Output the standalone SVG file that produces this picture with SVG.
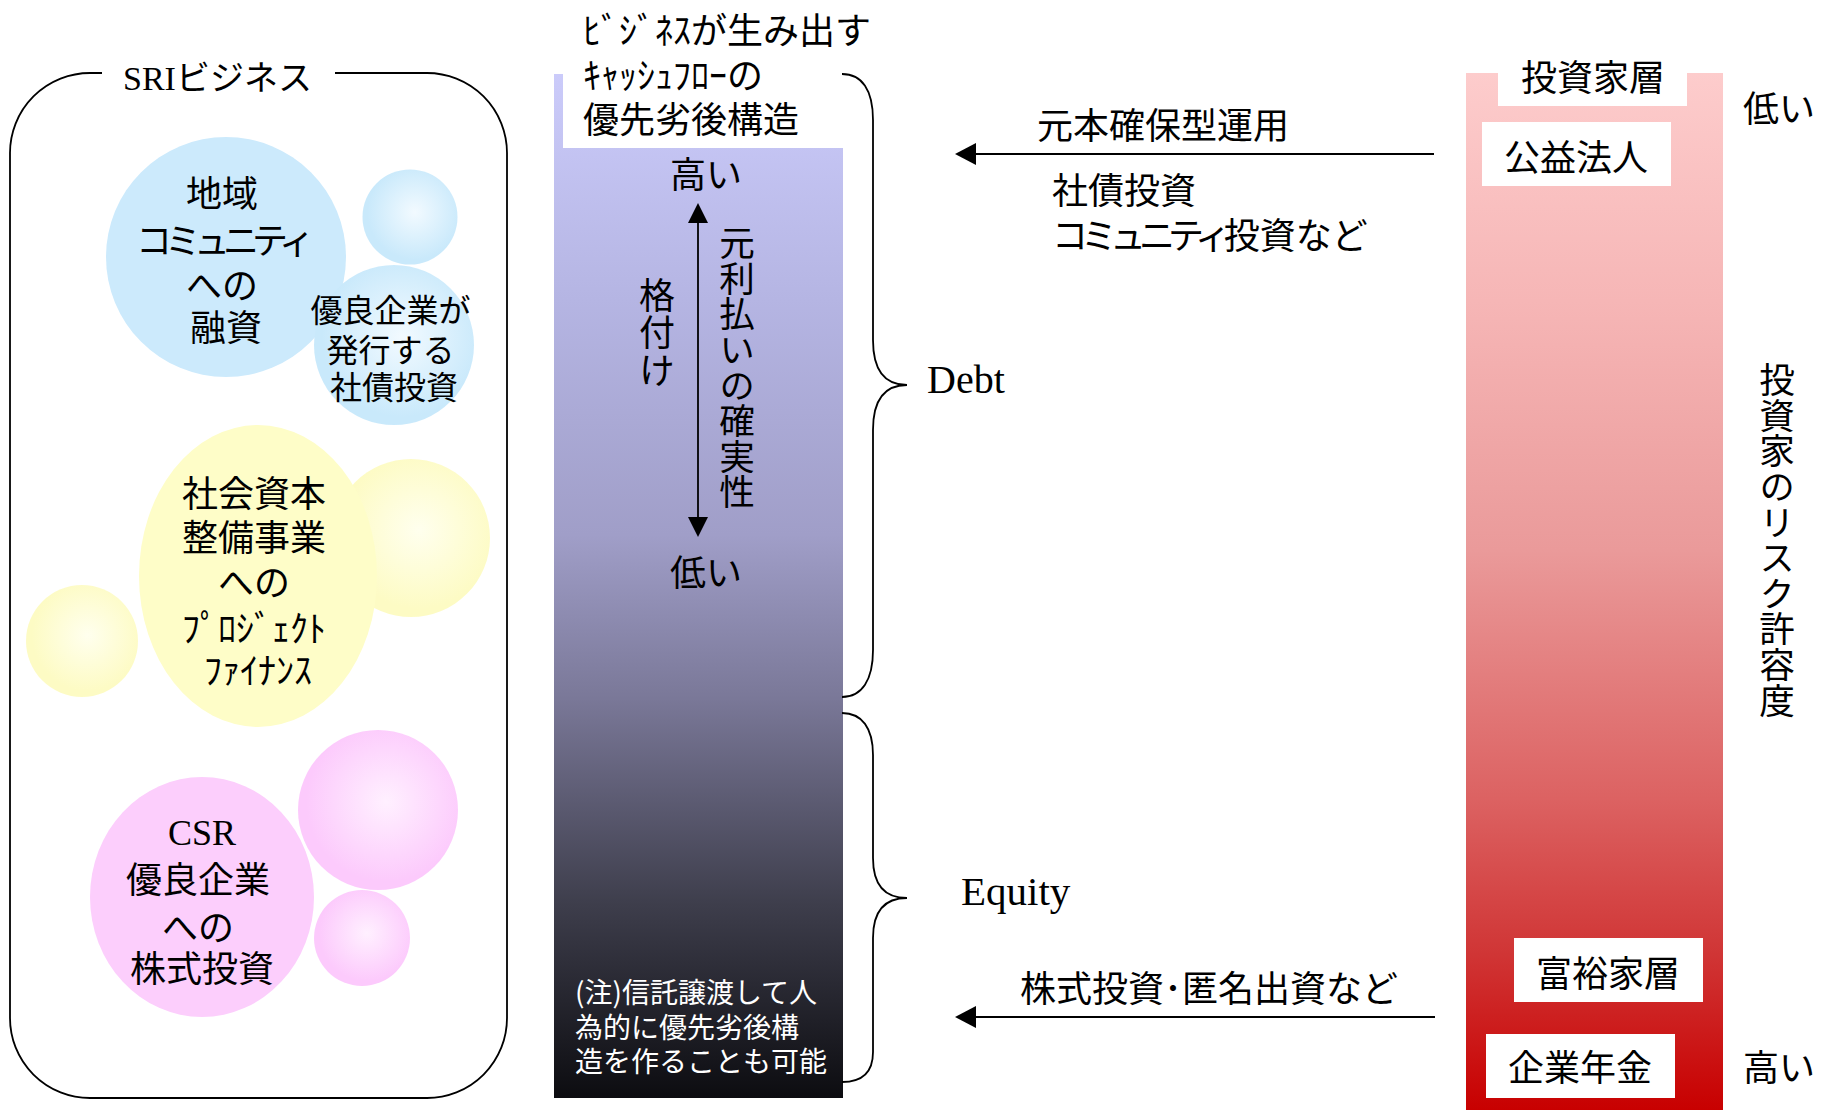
<svg xmlns="http://www.w3.org/2000/svg" width="1824" height="1111" viewBox="0 0 1824 1111">
<style>
  .jp { font-family: "Noto Sans CJK JP", "Noto Sans", sans-serif; fill: #000; }
  .ser { font-family: "Liberation Serif", "Noto Sans CJK JP", serif; fill: #000; }
  .vert { writing-mode: vertical-rl; text-orientation: upright; }
  .line { fill: none; stroke: #000; stroke-width: 1.8; }
  .box { fill: #fff; }
</style>
<defs>
  <radialGradient id="gBlue" cx="0.55" cy="0.45" r="0.5">
    <stop offset="0" stop-color="#f2faff"/>
    <stop offset="1" stop-color="#c9e9fb"/>
  </radialGradient>
  <radialGradient id="gYellow" cx="0.55" cy="0.45" r="0.5">
    <stop offset="0" stop-color="#ffffee"/>
    <stop offset="1" stop-color="#fdfbc4"/>
  </radialGradient>
  <radialGradient id="gPink" cx="0.55" cy="0.45" r="0.5">
    <stop offset="0" stop-color="#fff0ff"/>
    <stop offset="1" stop-color="#fccafc"/>
  </radialGradient>
  <linearGradient id="gMid" x1="0" y1="0" x2="0" y2="1">
    <stop offset="0" stop-color="#cbcbfa"/>
    <stop offset="0.22" stop-color="#b5b5e3"/>
    <stop offset="0.45" stop-color="#a09ec8"/>
    <stop offset="0.61" stop-color="#7a7898"/>
    <stop offset="0.81" stop-color="#3e3e4c"/>
    <stop offset="1" stop-color="#0c0c10"/>
  </linearGradient>
  <linearGradient id="gRed" x1="0" y1="0" x2="0" y2="1">
    <stop offset="0" stop-color="#fdcccc"/>
    <stop offset="0.22" stop-color="#f6b6b6"/>
    <stop offset="0.46" stop-color="#ea9a9a"/>
    <stop offset="0.7" stop-color="#dc6262"/>
    <stop offset="0.85" stop-color="#d03535"/>
    <stop offset="1" stop-color="#c80000"/>
  </linearGradient>
</defs>

<rect width="1824" height="1111" fill="#fff"/>

<!-- SRI business frame -->
<g id="sri-frame">
  <path class="line" d="M102,73 H90 A80,80 0 0 0 10,153 V1018 A80,80 0 0 0 90,1098 H427 A80,80 0 0 0 507,1018 V153 A80,80 0 0 0 427,73 H335"/>
  <text class="ser" x="123" y="90" font-size="34">SRIビジネス</text>
</g>

<g id="blue-group">
  <circle cx="226" cy="257" r="120" fill="#cceafc"/>
  <circle cx="410" cy="217" r="47.5" fill="url(#gBlue)"/>
  <circle cx="394" cy="345" r="80" fill="url(#gBlue)"/>
  <text class="jp" font-size="36" text-anchor="middle">
    <tspan x="226" y="207">地域</tspan>
    <tspan x="226" y="254" letter-spacing="-7">コミュニティ</tspan>
    <tspan x="226" y="299">への</tspan>
    <tspan x="226" y="341">融資</tspan>
  </text>
  <text class="jp" font-size="32" text-anchor="middle">
    <tspan x="394" y="322">優良企業が</tspan>
    <tspan x="394" y="362">発行する</tspan>
    <tspan x="394" y="399">社債投資</tspan>
  </text>
</g>

<g id="yellow-group">
  <circle cx="411" cy="538" r="79" fill="url(#gYellow)"/>
  <circle cx="82" cy="641" r="56" fill="url(#gYellow)"/>
  <ellipse cx="258" cy="576" rx="119" ry="151" fill="#fefdc8"/>
  <text class="jp" font-size="36" text-anchor="middle">
    <tspan x="258" y="507">社会資本</tspan>
    <tspan x="258" y="551">整備事業</tspan>
    <tspan x="258" y="596">への</tspan>
    <tspan x="258" y="642">ﾌﾟﾛｼﾞｪｸﾄ</tspan>
    <tspan x="258" y="684">ﾌｧｲﾅﾝｽ</tspan>
  </text>
</g>

<g id="pink-group">
  <circle cx="378" cy="810" r="80" fill="url(#gPink)"/>
  <circle cx="362" cy="938" r="48" fill="url(#gPink)"/>
  <ellipse cx="202" cy="897" rx="112" ry="120" fill="#fccefc"/>
  <text class="ser" x="202" y="845" font-size="36" text-anchor="middle">CSR</text>
  <text class="jp" font-size="36" text-anchor="middle">
    <tspan x="202" y="893">優良企業</tspan>
    <tspan x="202" y="941">への</tspan>
    <tspan x="202" y="982">株式投資</tspan>
  </text>
</g>

<!-- Middle column: cash flow priority structure -->
<g id="cashflow-column">
  <rect x="554" y="74" width="289" height="1024" fill="url(#gMid)"/>
  <rect class="box" x="563" y="60" width="282" height="88"/>
  <text class="jp" font-size="36">
    <tspan x="583" y="44">ﾋﾞｼﾞﾈｽが生み出す</tspan>
    <tspan x="583" y="89">ｷｬｯｼｭﾌﾛｰの</tspan>
    <tspan x="583" y="133">優先劣後構造</tspan>
  </text>
  <text class="jp" x="706" y="188" font-size="36" text-anchor="middle">高い</text>
  <text class="jp" x="706" y="586" font-size="36" text-anchor="middle">低い</text>
  <text class="jp vert" x="737" y="225" font-size="35.6">元利払いの確実性</text>
  <text class="jp vert" x="657" y="277" font-size="36" letter-spacing="1.5">格付け</text>
  <text class="jp" font-size="28" style="fill:#fff">
    <tspan x="575" y="1003">(注)信託譲渡して人</tspan>
    <tspan x="575" y="1038">為的に優先劣後構</tspan>
    <tspan x="575" y="1072">造を作ることも可能</tspan>
  </text>
</g>

<!-- Right column: investors -->
<g id="investor-column">
  <rect x="1466" y="73" width="257" height="1037" fill="url(#gRed)"/>
  <rect class="box" x="1498" y="60" width="189" height="46"/>
  <text class="jp" x="1593" y="91" font-size="36" text-anchor="middle">投資家層</text>
</g>
<g id="node-koueki">
  <rect class="box" x="1482" y="122" width="189" height="64"/>
  <text class="jp" x="1576" y="171" font-size="36" text-anchor="middle">公益法人</text>
</g>
<g id="node-fuyuu">
  <rect class="box" x="1514" y="938" width="189" height="64"/>
  <text class="jp" x="1608" y="987" font-size="36" text-anchor="middle">富裕家層</text>
</g>
<g id="node-kigyo">
  <rect class="box" x="1486" y="1034" width="189" height="64"/>
  <text class="jp" x="1580" y="1081" font-size="36" text-anchor="middle">企業年金</text>
</g>
<g id="risk-axis">
  <text class="jp" x="1743" y="122" font-size="36">低い</text>
  <text class="jp" x="1743" y="1081" font-size="36">高い</text>
  <text class="jp vert" x="1777" y="362" font-size="35.6">投資家のリスク許容度</text>
</g>

<g id="labels">
  <text class="ser" x="927" y="393" font-size="40">Debt</text>
  <text class="ser" x="961" y="905" font-size="41">Equity</text>
  <text class="jp" x="1037" y="139" font-size="36">元本確保型運用</text>
  <text class="jp" font-size="36">
    <tspan x="1052" y="204">社債投資</tspan>
    <tspan x="1052" y="249"><tspan letter-spacing="-7">コミュニティ</tspan>投資など</tspan>
  </text>
  <text class="jp" x="1020" y="1002" font-size="36">株式投資･匿名出資など</text>
</g>

<!-- Connectors -->
<g id="connectors">
  <path class="line" d="M842,74 C862,74 873,90 873,120 L873,340 C873,370 885,385 907,385 C885,385 873,400 873,430 L873,650 C873,680 862,697 842,697"/>
  <path class="line" d="M842,713 C862,713 873,728 873,755 L873,858 C873,885 885,898 907,898 C885,898 873,911 873,938 L873,1052 C873,1072 862,1082 842,1082"/>
  <line class="line" x1="698" y1="220" x2="698" y2="519"/>
  <polygon points="698,203 688,223 708,223" fill="#000"/>
  <polygon points="698,537 688,517 708,517" fill="#000"/>
  <line class="line" x1="1434" y1="154" x2="973" y2="154"/>
  <polygon points="955,154 976,143 976,165" fill="#000"/>
  <line class="line" x1="1435" y1="1017" x2="973" y2="1017"/>
  <polygon points="955,1017 976,1006 976,1028" fill="#000"/>
</g>
</svg>
